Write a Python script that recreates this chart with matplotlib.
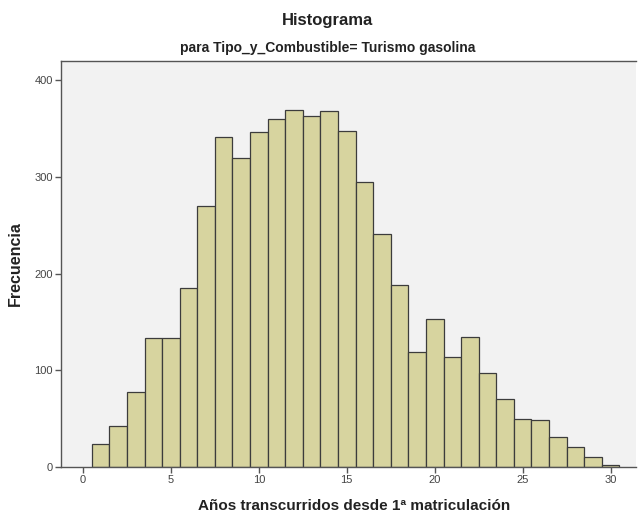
import numpy as np
import matplotlib
matplotlib.use("Agg")
import matplotlib.pyplot as plt

plt.rcParams['font.family'] = ['Liberation Sans', 'DejaVu Sans']

# years since first registration (bin centres) and frequency per bin
years = list(range(1, 31))
freq = [24, 42, 78, 133, 133, 185, 270, 341, 320, 347,
        360, 369, 363, 368, 348, 295, 241, 188, 119, 153,
        114, 134, 97, 70, 50, 49, 31, 21, 10, 2]
xticks = [0, 5, 10, 15, 20, 25, 30]
yticks = [0, 100, 200, 300, 400]

fig = plt.figure(figsize=(6.38, 5.15), dpi=100)
ax = fig.add_axes([0.0956, 0.0932, 0.9014, 0.7884])
ax.set_facecolor('#f2f2f2')

ax.bar(years, freq, width=1.0, color='#d7d49f', edgecolor='#3c3c3c', linewidth=0.9)

ax.set_xlim(-1.25, 31.45)
ax.set_ylim(0, 420)
ax.set_xticks(xticks)
ax.set_yticks(yticks)
ax.tick_params(direction='out', length=4, width=1, color='#555555',
               labelsize=8, labelcolor='#444444', pad=2)

for side in ['top', 'left', 'bottom', 'right']:
    ax.spines[side].set_color('#555555')
    ax.spines[side].set_linewidth(1)
ax.spines['right'].set_visible(False)

ax.set_xlabel('Años transcurridos desde 1ª matriculación', fontsize=11,
              fontweight='bold', labelpad=10, color='#222222')
ax.xaxis.label.set_x(0.51)
ax.set_ylabel('Frecuencia', fontsize=11.5, fontweight='bold', labelpad=8,
              color='#222222')

fig.text(0.513, 0.961, 'Histograma', ha='center', va='center',
         fontsize=12, fontweight='bold', color='#222222')
fig.text(0.513, 0.907, 'para Tipo_y_Combustible= Turismo gasolina', ha='center',
         va='center', fontsize=10, fontweight='bold', color='#222222')

fig.savefig('out.png', dpi=100)
